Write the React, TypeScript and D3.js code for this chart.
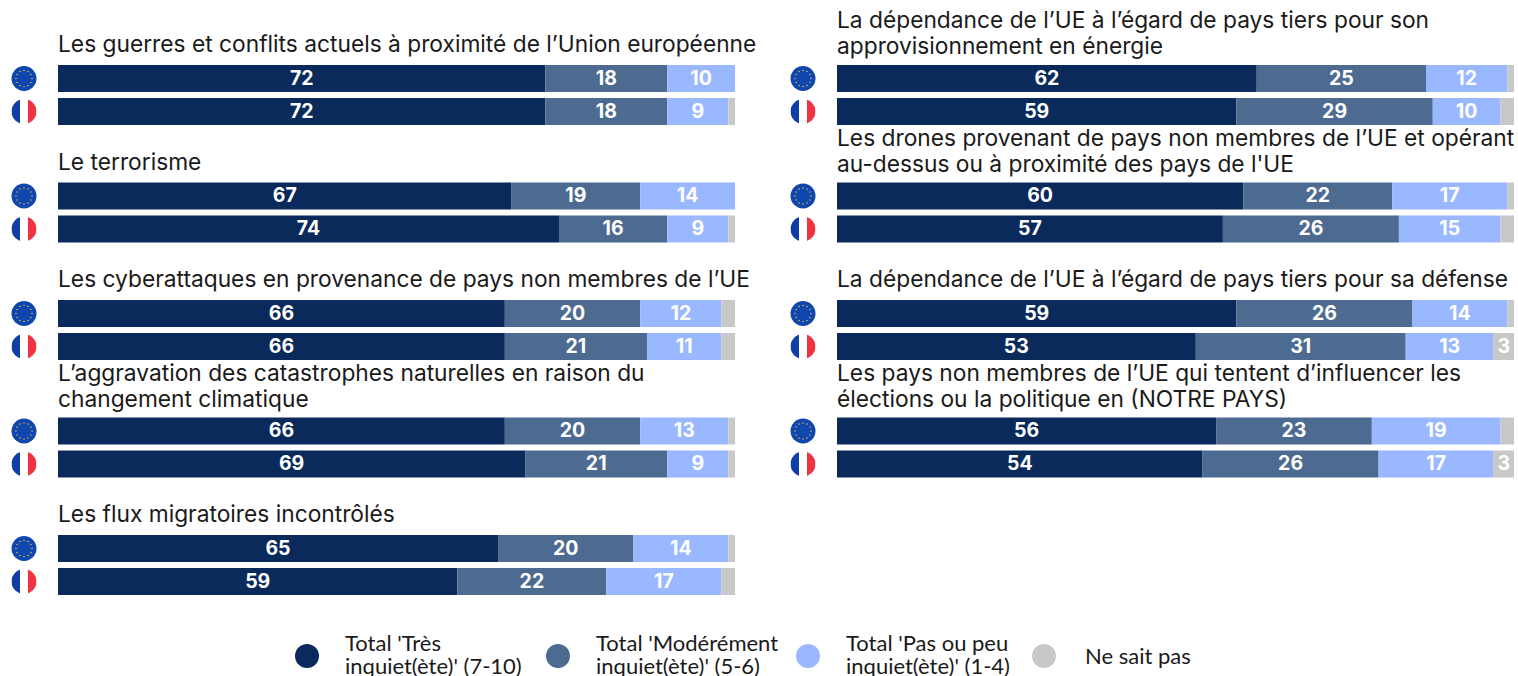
import React from 'react';
import * as d3 from 'd3';

const WIDTH = 1518;
const HEIGHT = 676;
const FONT = 'Inter, "Open Sans", sans-serif';

const topics = [
  ['Les guerres et conflits actuels à proximité de l’Union européenne'],
  ['Le terrorisme'],
  ['Les cyberattaques en provenance de pays non membres de l’UE'],
  ['L’aggravation des catastrophes naturelles en raison du', 'changement climatique'],
  ['Les flux migratoires incontrôlés'],
  ['La dépendance de l’UE à l’égard de pays tiers pour son', 'approvisionnement en énergie'],
  ['Les drones provenant de pays non membres de l’UE et opérant', "au-dessus ou à proximité des pays de l'UE"],
  ['La dépendance de l’UE à l’égard de pays tiers pour sa défense'],
  ['Les pays non membres de l’UE qui tentent d’influencer les', 'élections ou la politique en (NOTRE PAYS)'],
];

const keys = ['tres', 'modere', 'peu', 'nsp'];
const euTres = [72, 67, 66, 66, 65, 62, 60, 59, 56];
const euModere = [18, 19, 20, 20, 20, 25, 22, 26, 23];
const euPeu = [10, 14, 12, 13, 14, 12, 17, 14, 19];
const euNsp = [0, 0, 2, 1, 1, 1, 1, 1, 2];
const frTres = [72, 74, 66, 69, 59, 59, 57, 53, 54];
const frModere = [18, 16, 21, 21, 22, 29, 26, 31, 26];
const frPeu = [9, 9, 11, 9, 17, 10, 15, 13, 17];
const frNsp = [1, 1, 2, 1, 2, 2, 2, 3, 3];

const colors = ['#0a2a5b', '#4d6b91', '#9ab8ff', '#c8c8c8'];
const legendLabels = [
  ["Total 'Très", "inquiet(ète)' (7-10)"],
  ["Total 'Modérément", "inquiet(ète)' (5-6)"],
  ["Total 'Pas ou peu", "inquiet(ète)' (1-4)"],
  ['Ne sait pas'],
];

const rowsOf = (a: number[], b: number[], c: number[], d: number[]) =>
  a.map((v, i) => ({ tres: v, modere: b[i], peu: c[i], nsp: d[i] }));

const stack = d3.stack<any>().keys(keys);
const euStack = stack(rowsOf(euTres, euModere, euPeu, euNsp));
const frStack = stack(rowsOf(frTres, frModere, frPeu, frNsp));

const x = d3.scaleLinear().domain([0, 100]).range([0, 677]);
const groupY = d3.scaleLinear().domain([0, 4]).range([65, 535]);
const colX = [58, 837];
const BAR_H = 27;
const FR_OFFSET = 33;

const stars = d3.range(12).map((i) => (i / 12) * 2 * Math.PI);

function EuFlag({ cy }: { cy: number }) {
  return (
    <g transform={`translate(${0},${cy})`}>
      <circle r={12.5} fill="#0f47af" />
      {stars.map((a, i) => (
        <circle key={i} cx={8 * Math.cos(a)} cy={8 * Math.sin(a)} r={0.8} fill="#d9b84a" />
      ))}
    </g>
  );
}

function FrFlag({ cy }: { cy: number }) {
  return (
    <g transform={`translate(${0},${cy})`}>
      <clipPath id={`fr-${cy}`}>
        <circle r={12.5} />
      </clipPath>
      <g clipPath={`url(#fr-${cy})`}>
        <rect x={-12.5} y={-12.5} width={8.5} height={25} fill="#0f3fa6" />
        <rect x={-4} y={-12.5} width={8} height={25} fill="#ffffff" />
        <rect x={4} y={-12.5} width={8.5} height={25} fill="#ef3340" />
      </g>
    </g>
  );
}

function Bar({ series, index, y }: { series: any[]; index: number; y: number }) {
  return (
    <g transform={`translate(0,${y})`}>
      {series.map((s, k) => {
        const [a, b] = s[index];
        const v = b - a;
        if (v <= 0) return null;
        return (
          <g key={k}>
            <rect x={x(a)} y={0} width={x(b) - x(a)} height={BAR_H} fill={colors[k]} />
            {v >= 3 && (
              <text
                x={(x(a) + x(b)) / 2}
                y={BAR_H / 2 + 6}
                textAnchor="middle"
                fontSize={19.5}
                fontWeight={700}
                fill="#ffffff"
              >
                {v}
              </text>
            )}
          </g>
        );
      })}
    </g>
  );
}

export default function App() {
  const legendX = [307, 558, 808, 1044];
  return (
    <svg
      width={WIDTH}
      height={HEIGHT}
      style={{ position: 'absolute', left: 0, top: 0, display: 'block', background: '#fff' }}
      fontFamily={FONT}
    >
      {topics.map((lines, i) => {
        const col = i < 5 ? 0 : 1;
        const row = i < 5 ? i : i - 5;
        const top = groupY(row);
        const left = colX[col];
        // two-line titles sit a little closer to their bars
        const lastBaseline = top - (lines.length > 1 ? 11 : 13);
        return (
          <g key={i}>
            {lines.map((t, j) => (
              <text
                key={j}
                x={left}
                y={lastBaseline - (lines.length - 1 - j) * 26}
                fontSize={22.75}
                fill="#1a1a1a"
              >
                {t}
              </text>
            ))}
            <g transform={`translate(${left - 34},0)`}>
              <EuFlag cy={top + BAR_H / 2} />
              <FrFlag cy={top + FR_OFFSET + BAR_H / 2} />
            </g>
            <g transform={`translate(${left},0)`}>
              <Bar series={euStack} index={i} y={top} />
              <Bar series={frStack} index={i} y={top + FR_OFFSET} />
            </g>
          </g>
        );
      })}
      {legendLabels.map((lines, i) => (
        <g key={i}>
          <circle cx={legendX[i]} cy={656} r={12} fill={colors[i]} />
          {lines.map((t, j) => (
            <text
              key={j}
              x={legendX[i] + (lines.length === 1 ? 41 : 38)}
              y={lines.length === 1 ? 664 : 651 + j * 23}
              fontSize={22}
              fontFamily="Lato, sans-serif"
              fill="#1a1a1a"
            >
              {t}
            </text>
          ))}
        </g>
      ))}
    </svg>
  );
}
